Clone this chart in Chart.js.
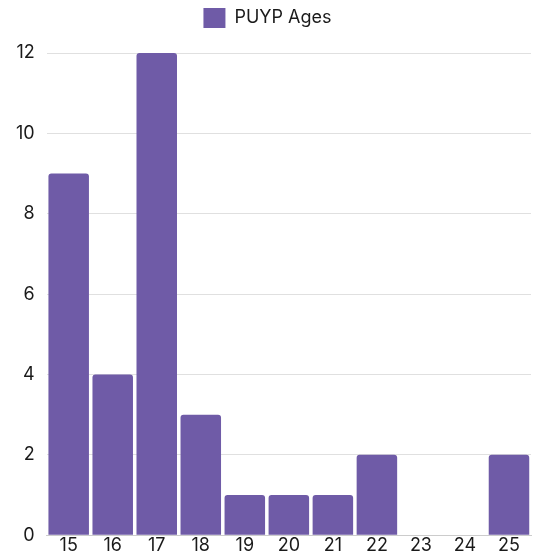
<!DOCTYPE html>
<html>
<head>
<meta charset="utf-8">
<script src="https://cdn.jsdelivr.net/npm/chart.js@4"></script>
<style>
  html, body { margin: 0; padding: 0; background: #fff; }
  #wrap { width: 539px; height: 558px; }
</style>
</head>
<body>
<div id="wrap"><canvas id="chart" width="539" height="558"></canvas></div>
<script>
const ages = ['15', '16', '17', '18', '19', '20', '21', '22', '23', '24', '25'];
const counts = [9, 4, 12, 3, 1, 1, 1, 2, 0, 0, 2];
const seriesName = 'PUYP Ages';

const fontFamily = 'Inter, "Open Sans", sans-serif';

// push the plot area down a bit below the legend
const legendGap = {
    id: 'legendGap',
    beforeInit(chart) {
        const fit = chart.legend.fit;
        chart.legend.fit = function () {
            fit.bind(chart.legend)();
            this.height += 15;
        };
    }
};

const ctx = document.getElementById('chart').getContext('2d');
new Chart(ctx, {
    type: 'bar',
    data: {
        labels: ages,
        datasets: [{
            label: seriesName,
            data: counts,
            backgroundColor: '#6f5ba7',
            borderRadius: 3,
            borderSkipped: 'bottom',
            barPercentage: 0.92,
            categoryPercentage: 1.0
        }]
    },
    options: {
        responsive: false,
        animation: false,
        layout: { padding: { left: 4, right: 8, top: 0, bottom: 0 } },
        plugins: {
            legend: {
                labels: {
                    font: { family: fontFamily, size: 18 },
                    color: '#1a1a1a',
                    boxWidth: 22,
                    boxHeight: 20,
                    padding: 8
                }
            },
            tooltip: { enabled: false }
        },
        scales: {
            x: {
                grid: { display: false, drawTicks: false },
                border: { color: '#ccc' },
                ticks: {
                    font: { family: fontFamily, size: 18 },
                    color: '#1a1a1a',
                    padding: 0
                }
            },
            y: {
                min: 0,
                max: 12,
                ticks: {
                    stepSize: 2,
                    font: { family: fontFamily, size: 18 },
                    color: '#1a1a1a',
                    padding: 12
                },
                grid: { color: '#e0e0e0', drawTicks: false },
                border: { display: false }
            }
        }
    },
    plugins: [legendGap]
});
</script>
</body>
</html>
